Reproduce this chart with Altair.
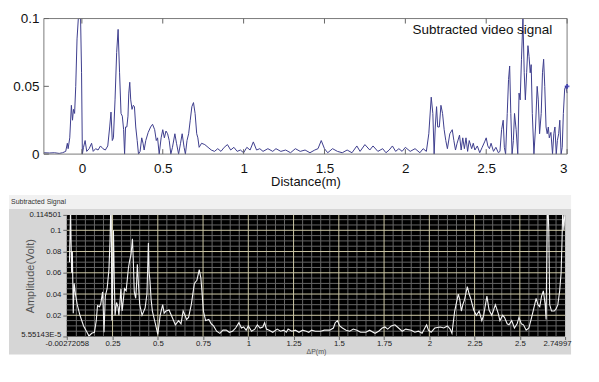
import altair as alt
import pandas as pd

# ---------------- top panel (MATLAB style) ----------------
top_x = [-0.235, -0.20, -0.17, -0.14, -0.12, -0.10, -0.09, -0.085, -0.075, -0.065,
         -0.058, -0.052, -0.045, -0.038, -0.03, -0.022, -0.015, -0.008, -0.002, 0.003,
         0.01, 0.02, 0.03, 0.045, 0.06, 0.07, 0.085, 0.10, 0.115, 0.13,
         0.145, 0.16, 0.172, 0.18, 0.188, 0.195, 0.205, 0.215, 0.224, 0.233,
         0.242, 0.25, 0.258, 0.264, 0.27, 0.278, 0.285, 0.29, 0.296, 0.302,
         0.31, 0.318, 0.325, 0.333, 0.342, 0.35, 0.36, 0.37, 0.378, 0.385,
         0.395, 0.41, 0.425, 0.437, 0.45, 0.46, 0.468, 0.478, 0.49, 0.5,
         0.51, 0.52, 0.53, 0.54, 0.55, 0.56, 0.575, 0.585, 0.598, 0.61,
         0.62, 0.632, 0.64, 0.65, 0.66, 0.67, 0.68, 0.69, 0.7, 0.71,
         0.717, 0.725, 0.74, 0.76, 0.78, 0.8, 0.82, 0.84, 0.86, 0.88,
         0.9, 0.92, 0.94, 0.96, 0.98, 1.0, 1.02, 1.04, 1.06, 1.08,
         1.1, 1.12, 1.15, 1.18, 1.2, 1.23, 1.26, 1.29, 1.32, 1.35,
         1.38, 1.41, 1.44, 1.46, 1.48, 1.5, 1.52, 1.55, 1.58, 1.61,
         1.64, 1.67, 1.7, 1.72, 1.75, 1.78, 1.8, 1.83, 1.86, 1.88,
         1.9, 1.92, 1.94, 1.96, 1.98, 2.0, 2.03, 2.06, 2.09, 2.11,
         2.13, 2.145, 2.16, 2.17, 2.178, 2.185, 2.193, 2.2, 2.21, 2.22,
         2.23, 2.24, 2.25, 2.26, 2.275, 2.29, 2.3, 2.31, 2.32, 2.335,
         2.345, 2.355, 2.365, 2.375, 2.385, 2.395, 2.41, 2.42, 2.43, 2.445,
         2.46, 2.475, 2.49, 2.5, 2.51, 2.52, 2.53, 2.545, 2.56, 2.575,
         2.585, 2.595, 2.605, 2.612, 2.62, 2.63, 2.638, 2.645, 2.652, 2.66,
         2.668, 2.675, 2.685, 2.695, 2.703, 2.71, 2.718, 2.727, 2.735, 2.742,
         2.75, 2.758, 2.765, 2.772, 2.778, 2.785, 2.795, 2.805, 2.815, 2.822,
         2.83, 2.84, 2.848, 2.855, 2.862, 2.87, 2.877, 2.884, 2.89, 2.9,
         2.91, 2.918, 2.925, 2.933, 2.94, 2.948, 2.955, 2.963, 2.97, 2.977,
         2.985, 2.992, 3.0]
top_y = [0.001, 0.0008, 0.001, 0.0005, 0.001, 0.002, 0.008, 0.004, 0.012, 0.036,
         0.025, 0.033, 0.03, 0.05, 0.085, 0.1, 0.1, 0.1, 0.06, 0.0,
         0.005, 0.01, 0.002, 0.004, 0.008, 0.002, 0.004, 0.003, 0.006, 0.004,
         0.003, 0.006, 0.02, 0.031, 0.01, 0.012, 0.04, 0.075, 0.092, 0.06,
         0.03, 0.028, 0.018, 0.0, 0.02, 0.02, 0.028, 0.045, 0.053, 0.04,
         0.033, 0.036, 0.035, 0.02, 0.01, 0.0, 0.002, 0.012, 0.008, 0.003,
         0.01, 0.016, 0.02, 0.022, 0.018, 0.01, 0.012, 0.0, 0.012, 0.018,
         0.012, 0.017, 0.015, 0.01, 0.0, 0.005, 0.015, 0.008, 0.0, 0.008,
         0.015, 0.005, 0.0, 0.01, 0.015, 0.025, 0.035, 0.038, 0.03, 0.015,
         0.012, 0.005, 0.008, 0.007, 0.005, 0.003, 0.002, 0.004, 0.002, 0.005,
         0.007, 0.003, 0.005, 0.002, 0.003, 0.001, 0.005, 0.003, 0.009, 0.003,
         0.004, 0.002, 0.004, 0.002, 0.004, 0.002, 0.003, 0.001, 0.004, 0.002,
         0.003, 0.001, 0.003, 0.004, 0.01, 0.004, 0.001, 0.004, 0.002, 0.001,
         0.003, 0.001, 0.006, 0.002, 0.007, 0.003, 0.006, 0.002, 0.004, 0.001,
         0.003, 0.006, 0.002, 0.004, 0.002, 0.005, 0.002, 0.004, 0.001, 0.004,
         0.002, 0.015, 0.042, 0.03, 0.0, 0.02, 0.035, 0.02, 0.02, 0.036,
         0.03, 0.018, 0.01, 0.004, 0.015, 0.018, 0.01, 0.003, 0.008, 0.014,
         0.003, 0.012, 0.004, 0.012, 0.002, 0.01, 0.004, 0.008, 0.003, 0.006,
         0.001, 0.005, 0.009, 0.012, 0.006, 0.004, 0.008, 0.002, 0.005, 0.001,
         0.002, 0.018, 0.025, 0.005, 0.0, 0.03, 0.055, 0.065, 0.03, 0.0,
         0.01, 0.03, 0.018, 0.0, 0.045, 0.04, 0.07, 0.1, 0.06, 0.04,
         0.06, 0.08, 0.072, 0.06, 0.066, 0.03, 0.0, 0.02, 0.05, 0.04,
         0.015, 0.03, 0.06, 0.07, 0.05, 0.02, 0.015, 0.02, 0.012, 0.016,
         0.0, 0.015, 0.02, 0.0, 0.01, 0.015, 0.025, 0.0, 0.005, 0.03,
         0.048, 0.05, 0.045]
top_marker_x = [3.0]
top_marker_y = [0.05]
top_x_ticks = [0, 0.5, 1, 1.5, 2, 2.5, 3]
top_y_ticks = [0, 0.05, 0.1]
top_x_domain = [-0.235, 3.0]
top_y_domain = [0.0, 0.1]
top_legend = ["Subtracted video signal"]
top_x_title = "Distance(m)"

# ---------------- bottom panel (LabVIEW style) ----------------
bot_x = [0.012, 0.018, 0.024, 0.028, 0.033, 0.038, 0.045, 0.055, 0.07, 0.09,
         0.106, 0.12, 0.135, 0.15, 0.16, 0.167, 0.178, 0.185, 0.195, 0.2,
         0.203, 0.21, 0.22, 0.23, 0.236, 0.24, 0.243, 0.246, 0.25, 0.255,
         0.26, 0.264, 0.272, 0.28, 0.285, 0.29, 0.296, 0.303, 0.31, 0.316,
         0.325, 0.338, 0.345, 0.352, 0.36, 0.365, 0.37, 0.378, 0.383, 0.387,
         0.393, 0.4, 0.413, 0.43, 0.44, 0.448, 0.452, 0.457, 0.463, 0.47,
         0.488, 0.5, 0.513, 0.527, 0.535, 0.545, 0.562, 0.58, 0.597, 0.615,
         0.628, 0.64, 0.65, 0.659, 0.67, 0.685, 0.702, 0.716, 0.729, 0.738,
         0.745, 0.752, 0.764, 0.782, 0.795, 0.808, 0.825, 0.843, 0.86, 0.878,
         0.895, 0.913, 0.93, 0.948, 0.962, 0.974, 0.988, 1.0, 1.018, 1.036,
         1.05, 1.065, 1.08, 1.09, 1.1, 1.115, 1.135, 1.16, 1.178, 1.195,
         1.21, 1.22, 1.24, 1.26, 1.28, 1.3, 1.32, 1.334, 1.35, 1.37,
         1.4, 1.42, 1.45, 1.47, 1.48, 1.492, 1.505, 1.52, 1.54, 1.56,
         1.58, 1.6, 1.62, 1.65, 1.67, 1.70, 1.72, 1.74, 1.755, 1.77,
         1.79, 1.81, 1.83, 1.85, 1.87, 1.9, 1.92, 1.94, 1.96, 1.975,
         1.985, 1.995, 2.01, 2.03, 2.06, 2.08, 2.1, 2.115, 2.125, 2.14,
         2.16, 2.168, 2.177, 2.185, 2.195, 2.21, 2.22, 2.23, 2.245, 2.26,
         2.275, 2.29, 2.3, 2.318, 2.33, 2.345, 2.365, 2.38, 2.39, 2.405,
         2.415, 2.43, 2.44, 2.455, 2.47, 2.485, 2.495, 2.508, 2.52, 2.535,
         2.55, 2.565, 2.575, 2.59, 2.6, 2.61, 2.62, 2.63, 2.64, 2.645,
         2.652, 2.656, 2.66, 2.665, 2.675, 2.69, 2.7, 2.71, 2.72, 2.728,
         2.733, 2.737, 2.743, 2.7499]
bot_y = [0.07, 0.12, 0.06, 0.08, 0.022, 0.05, 0.04, 0.03, 0.02, 0.01,
         0.005, 0.0005, 0.003, 0.004, 0.015, 0.029, 0.028, 0.031, 0.042, 0.02,
         0.004, 0.038, 0.045, 0.063, 0.09, 0.12, 0.12, 0.015, 0.04, 0.1,
         0.05, 0.02, 0.032, 0.028, 0.02, 0.03, 0.045, 0.024, 0.035, 0.045,
         0.043, 0.065, 0.072, 0.077, 0.092, 0.07, 0.042, 0.036, 0.05, 0.068,
         0.05, 0.03, 0.02, 0.027, 0.04, 0.088, 0.06, 0.052, 0.035, 0.024,
         0.011, 0.002, 0.02, 0.03, 0.022, 0.024, 0.025, 0.018, 0.011, 0.015,
         0.012, 0.024, 0.02, 0.016, 0.018, 0.03, 0.05, 0.053, 0.063, 0.055,
         0.04, 0.024, 0.015, 0.016, 0.012, 0.01, 0.005, 0.003, 0.006, 0.006,
         0.004, 0.005, 0.008, 0.013, 0.008, 0.009, 0.006, 0.01, 0.005, 0.007,
         0.011, 0.008, 0.009, 0.013, 0.007, 0.006, 0.004, 0.007, 0.005, 0.006,
         0.004, 0.007, 0.005, 0.006, 0.004, 0.006, 0.005, 0.004, 0.006, 0.005,
         0.005, 0.006, 0.006, 0.008, 0.013, 0.015, 0.01, 0.008, 0.006, 0.005,
         0.007, 0.006, 0.004, 0.004, 0.006, 0.003, 0.005, 0.008, 0.009, 0.007,
         0.01, 0.011, 0.008, 0.005, 0.007, 0.006, 0.004, 0.005, 0.003, 0.008,
         0.011, 0.006, 0.004, 0.008, 0.009, 0.008, 0.01, 0.007, 0.003, 0.024,
         0.04, 0.035, 0.024, 0.03, 0.035, 0.047, 0.04, 0.035, 0.025, 0.02,
         0.024, 0.015, 0.02, 0.038, 0.025, 0.02, 0.03, 0.022, 0.015, 0.02,
         0.018, 0.012, 0.011, 0.015, 0.008, 0.012, 0.018, 0.012, 0.011, 0.006,
         0.008, 0.018, 0.025, 0.036, 0.03, 0.028, 0.038, 0.043, 0.03, 0.016,
         0.12, 0.12, 0.1, 0.03, 0.024, 0.024, 0.026, 0.03, 0.043, 0.06,
         0.09, 0.12, 0.1, 0.12]
bot_x_domain = [-0.00272058, 2.74997]
bot_y_domain = [5.55143e-5, 0.114501]
bot_x_ticks = [-0.00272058, 0.25, 0.5, 0.75, 1, 1.25, 1.5, 1.75, 2, 2.25, 2.5, 2.74997]
bot_x_labels = ["-0.00272058", "0.25", "0.5", "0.75", "1", "1.25", "1.5", "1.75",
                "2", "2.25", "2.5", "2.74997"]
bot_y_ticks = [5.55143e-5, 0.02, 0.04, 0.06, 0.08, 0.1, 0.114501]
bot_y_labels = ["5.55143E-5", "0.02", "0.04", "0.06", "0.08", "0.1", "0.114501"]
bot_x_major = [0.25, 0.5, 0.75, 1, 1.25, 1.5, 1.75, 2, 2.25, 2.5]
bot_x_minor = [round(i * 0.05, 2) for i in range(1, 55) if i % 5]
bot_y_major = [0.02, 0.04, 0.06, 0.08, 0.1]
bot_y_minor = [round(i * 0.005, 3) for i in range(1, 23) if i % 4]
bot_panel_title = ["Subtracted Signal"]
bot_x_title = "\u0394P(m)"
bot_y_title = "Amplitude(Volt)"

SANS = "Liberation Sans, Arial, sans-serif"


def label_expr(vals, labels):
    expr = "''"
    for v, l in reversed(list(zip(vals, labels))):
        expr = f"abs(datum.value - ({v})) < 1e-7 ? '{l}' : ({expr})"
    return expr


LEFT = 58     # common left extent of both panels (px left of the shared plot origin)
SHIFT = 23    # the top frame starts this far left of the shared origin

# ================= top chart =================
W1, H1 = 502, 136
xs1 = alt.Scale(domain=top_x_domain, range=[-SHIFT, W1], nice=False, zero=False)
ys1 = alt.Scale(domain=top_y_domain, nice=False, zero=False)
xax1 = alt.Axis(values=top_x_ticks, labelExpr="format(datum.value, '~g')", ticks=False,
                domain=False, grid=False, labelFont=SANS, labelFontSize=13.5,
                labelColor="#111", labelPadding=7, labelOverlap=False,
                title=top_x_title, titleFont=SANS, titleFontSize=13,
                titleFontWeight="normal", titleColor="#111", titlePadding=1)
yax1 = alt.Axis(values=top_y_ticks, labelExpr="format(datum.value, '~g')", ticks=False,
                domain=False, grid=False, labelFont=SANS, labelFontSize=13.5,
                labelColor="#111", labelPadding=5, labelOverlap=False, offset=SHIFT)


def X1(f="x"):
    return alt.X(f"{f}:Q", scale=xs1, axis=xax1, title=top_x_title)


def Y1(f="y"):
    return alt.Y(f"{f}:Q", scale=ys1, axis=yax1, title=None)


one = pd.DataFrame({"k": [0]})
bounds1 = alt.Chart(one).mark_rect(opacity=0, fill="white").encode(
    x=alt.value(-LEFT), x2=alt.value(W1), y=alt.value(-9), y2=alt.value(175))

frame1 = alt.Chart(pd.DataFrame({"x": [top_x_domain[0]], "x1": [top_x_domain[1]],
                                 "y": [top_y_domain[0]], "y1": [top_y_domain[1]]})).mark_rect(
    filled=False, stroke="#7a7a7a", strokeWidth=1, fill="transparent").encode(
    x=X1(), x2="x1:Q", y=Y1(), y2="y1:Q")

line1 = alt.Chart(pd.DataFrame({"x": top_x, "y": top_y})).mark_line(
    color="#3e3e8e", strokeWidth=1, clip=False).encode(x=X1(), y=Y1())

xt_df = pd.DataFrame({"x": top_x_ticks})
yt_df = pd.DataFrame({"y": top_y_ticks})
tick_top = alt.Chart(xt_df).mark_rule(color="#666", strokeWidth=1).encode(
    x=X1(), y=alt.value(0), y2=alt.value(5))
tick_bot = alt.Chart(xt_df).mark_rule(color="#666", strokeWidth=1).encode(
    x=X1(), y=alt.value(H1), y2=alt.value(H1 - 5))
tick_left = alt.Chart(yt_df).mark_rule(color="#666", strokeWidth=1).encode(
    y=Y1(), x=alt.value(-SHIFT), x2=alt.value(-SHIFT + 5))

legend1 = alt.Chart(pd.DataFrame({"t": top_legend})).mark_text(
    font=SANS, fontSize=13.5, color="#111", align="center", baseline="middle").encode(
    x=alt.value(417), y=alt.value(11), text="t:N")

marker1 = alt.Chart(pd.DataFrame({"x": top_marker_x, "y": top_marker_y})).mark_point(
    shape="cross", filled=True, size=22, color="#1a1aa8", clip=False).encode(x=X1(), y=Y1())

top = alt.layer(bounds1, line1, frame1, tick_top, tick_bot, tick_left, marker1,
                legend1).properties(
    width=W1, height=H1,
    view=alt.ViewBackground(fill="transparent", stroke="transparent"))

# ================= bottom chart =================
W2, H2 = 500, 122
xs2 = alt.Scale(domain=bot_x_domain, nice=False, zero=False)
ys2 = alt.Scale(domain=bot_y_domain, nice=False, zero=False)
xax2 = alt.Axis(values=bot_x_ticks, labelExpr=label_expr(bot_x_ticks, bot_x_labels),
                grid=False, domain=False, tickSize=3, tickColor="#666",
                labelFont=SANS, labelFontSize=7.8, labelColor="#222", labelPadding=0,
                labelOverlap=False,
                labelAlign={"condition": {"test": "datum.value > 2.7", "value": "right"},
                            "value": "center"},
                labelOffset={"condition": {"test": "datum.value > 2.7", "value": 6},
                             "value": 0},
                title=bot_x_title, titleFont=SANS, titleFontSize=7,
                titleFontWeight="normal", titleColor="#555", titleY=15,
                titleBaseline="middle", zindex=1)
yax2 = alt.Axis(values=bot_y_ticks, labelExpr=label_expr(bot_y_ticks, bot_y_labels),
                grid=False, domain=False, tickSize=4, tickColor="#666",
                labelFont=SANS, labelFontSize=7.8, labelColor="#222", labelPadding=2,
                labelOverlap=False,
                labelBaseline={"condition": {"test": "datum.value < 0.001",
                                             "value": "alphabetic"},
                               "value": "middle"},
                title=bot_y_title, titleFont=SANS, titleFontSize=11,
                titleFontWeight="normal", titleColor="#555", titleX=-36, titleY=H2 / 2,
                titleAngle=270, titleAlign="center", titleBaseline="middle", zindex=1)


def X2(f="x"):
    return alt.X(f"{f}:Q", scale=xs2, axis=xax2, title=bot_x_title)


def Y2(f="y"):
    return alt.Y(f"{f}:Q", scale=ys2, axis=yax2, title=bot_y_title)


strip = alt.Chart(one).mark_rect(fill="#f1f1f1").encode(
    x=alt.value(-LEFT), x2=alt.value(W2 + 6), y=alt.value(-20), y2=alt.value(-6))
panel = alt.Chart(one).mark_rect(fill="#d6d6d6").encode(
    x=alt.value(-LEFT), x2=alt.value(W2 + 6), y=alt.value(-6), y2=alt.value(H2 + 18))
panel_title = alt.Chart(pd.DataFrame({"t": bot_panel_title})).mark_text(
    font=SANS, fontSize=7, color="#333", align="left", baseline="middle").encode(
    x=alt.value(-LEFT + 2), y=alt.value(-13), text="t:N")

plot_bg = alt.Chart(pd.DataFrame({"x": [bot_x_domain[0]], "x1": [bot_x_domain[1]],
                                  "y": [bot_y_domain[0]], "y1": [bot_y_domain[1]]})).mark_rect(
    fill="black").encode(x=X2(), x2="x1:Q", y=Y2(), y2="y1:Q")


def vgrid(vals, color):
    df = pd.DataFrame({"x": vals, "y": bot_y_domain[0], "y1": bot_y_domain[1]})
    return alt.Chart(df).mark_rule(color=color, strokeWidth=1).encode(
        x=X2(), y=Y2(), y2="y1:Q")


def hgrid(vals, color):
    df = pd.DataFrame({"y": vals, "x": bot_x_domain[0], "x1": bot_x_domain[1]})
    return alt.Chart(df).mark_rule(color=color, strokeWidth=1).encode(
        y=Y2(), x=X2(), x2="x1:Q")


MINOR = "#656565"
MAJOR = "#cdc8a6"
line2 = alt.Chart(pd.DataFrame({"x": bot_x, "y": bot_y})).mark_line(
    color="#f4f4f4", strokeWidth=1.1, clip=True).encode(x=X2(), y=Y2())

bottom = alt.layer(strip, panel, panel_title, plot_bg,
                   vgrid(bot_x_minor, MINOR), hgrid(bot_y_minor, MINOR),
                   vgrid(bot_x_major, MAJOR), hgrid(bot_y_major, MAJOR),
                   line2).properties(
    width=W2, height=H2,
    view=alt.ViewBackground(fill="transparent", stroke="transparent"))

chart = alt.concat(top, bottom, columns=1, spacing=0).properties(
    padding=0, background="white")

chart.save("out.html", embed_options={"renderer": "svg", "actions": False})
